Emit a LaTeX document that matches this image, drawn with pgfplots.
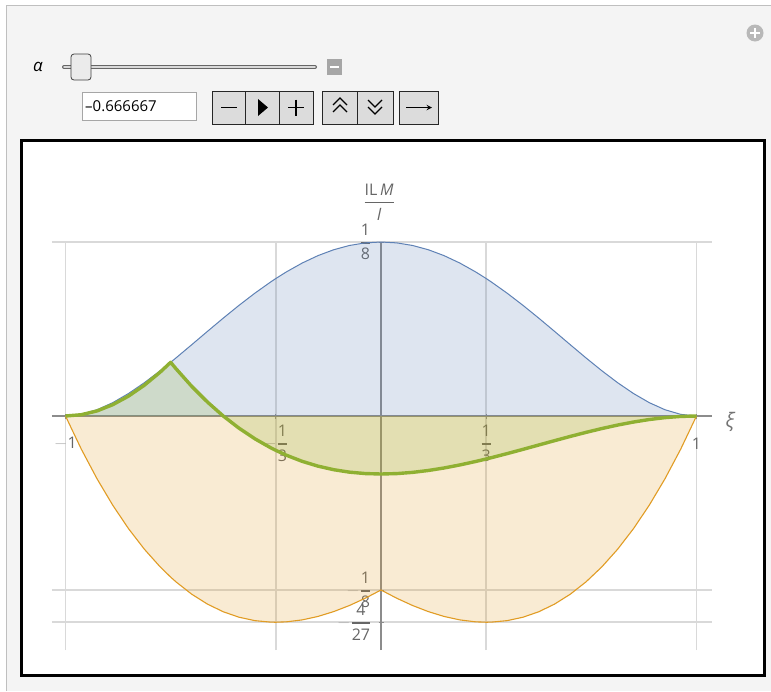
\documentclass[border=0pt]{standalone}
\usepackage{pgfplots}
\pgfplotsset{compat=1.18}
\usepackage{pgfplotstable}
\usepackage{amsmath}
\usepackage{fontspec}
\setmainfont{Open Sans}

\definecolor{mblue}{HTML}{5E81B5}
\definecolor{morange}{HTML}{E19C24}
\definecolor{mgreen}{HTML}{8FB032}
\definecolor{panel}{HTML}{F4F4F4}
\definecolor{ticktext}{HTML}{666666}
\definecolor{btn}{HTML}{DCDCDC}

% xi, max envelope, min envelope, influence line for alpha = -2/3
\pgfplotstableread{
x up low il
-1 0 0 0
-0.95 0.001188 -0.023766 0.000927
-0.9 0.004513 -0.045125 0.003667
-0.85 0.009626 -0.064172 0.008156
-0.8 0.0162 -0.081 0.014333
-0.75 0.023926 -0.095703 0.022135
-0.7 0.032513 -0.108375 0.0315
-0.666667 0.03858 -0.115741 0.03858
-0.65 0.041688 -0.119109 0.034031
-0.6 0.0512 -0.128 0.021333
-0.55 0.060813 -0.135141 0.01001
-0.5 0.070313 -0.140625 0
-0.45 0.079501 -0.144547 -0.00876
-0.4 0.0882 -0.147 -0.016333
-0.35 0.096251 -0.148078 -0.022781
-0.333333 0.098765 -0.148148 -0.024691
-0.3 0.103513 -0.147875 -0.028167
-0.25 0.109863 -0.146484 -0.032552
-0.2 0.1152 -0.144 -0.036
-0.15 0.119438 -0.140516 -0.038573
-0.1 0.122513 -0.136125 -0.040333
-0.05 0.124375 -0.130922 -0.041344
0 0.125 -0.125 -0.041667
0.05 0.124375 -0.130922 -0.041365
0.1 0.122513 -0.136125 -0.0405
0.15 0.119438 -0.140516 -0.039135
0.2 0.1152 -0.144 -0.037333
0.25 0.109863 -0.146484 -0.035156
0.3 0.103513 -0.147875 -0.032667
0.333333 0.098765 -0.148148 -0.030864
0.35 0.096251 -0.148078 -0.029927
0.4 0.0882 -0.147 -0.027
0.45 0.079501 -0.144547 -0.023948
0.5 0.070313 -0.140625 -0.020833
0.55 0.060813 -0.135141 -0.017719
0.6 0.0512 -0.128 -0.014667
0.65 0.041688 -0.119109 -0.01174
0.7 0.032513 -0.108375 -0.009
0.75 0.023926 -0.095703 -0.00651
0.8 0.0162 -0.081 -0.004333
0.85 0.009626 -0.064172 -0.002531
0.9 0.004513 -0.045125 -0.001167
0.95 0.001188 -0.023766 -0.000302
1 0 0 0
}\envelopes

\newcommand{\fr}[2]{\genfrac{}{}{1.6pt}{0}{\text{#1}}{\text{#2}}}
\newcommand{\mn}{\textcolor{black!30}{-}}

\begin{document}
\begin{tikzpicture}[x=1pt,y=-1pt]
\useasboundingbox (0,0) rectangle (771,691);
\fill[white] (0,0) rectangle (771,691);
\fill[panel] (6,5) rectangle (771,691);
\draw[black!25, line width=1pt] (6,691) -- (6,5) -- (771,5);
% plus icon
\fill[black!28] (755,33) circle (8.5);
\draw[white, line width=2.2pt] (750,33) -- (760,33) (755,28) -- (755,38);
% slider
\node[font=\itshape\fontsize{17}{20}\selectfont] at (38,67) {α};
\draw[black!60, line width=4pt, line cap=round] (64,67) -- (315,67);
\draw[black!15, line width=1.6pt, line cap=round] (64,67) -- (315,67);
\draw[black!75, fill=black!8, rounded corners=3pt, line width=0.8pt] (71,54) rectangle (91,80);
\fill[black!35] (327,59) rectangle (342,75);
\draw[white, line width=1.5pt] (330,67) -- (339,67);
% value field
\draw[black!35, fill=white] (82,92) rectangle (196,120);
\node[anchor=west, font=\fontsize{15}{18}\selectfont, inner sep=0pt] at (85,106) {\textendash0.666667};
% buttons
\draw[black!85, fill=btn, line width=0.8pt] (212,91) rectangle (313,124);
\draw[black!85, line width=0.8pt] (245.7,91) -- (245.7,124) (279.3,91) -- (279.3,124);
\draw[line width=1.4pt] (221,107.5) -- (237,107.5);
\fill (258,99) -- (268,107.5) -- (258,116) -- cycle;
\draw[line width=1.4pt] (288,107.5) -- (304,107.5) (296,99.5) -- (296,115.5);
\draw[black!85, fill=btn, line width=0.8pt] (322,91) rectangle (393,124);
\draw[black!85, line width=0.8pt] (357.5,91) -- (357.5,124);
\draw[line width=1.1pt] (333,105) -- (340,98) -- (347,105) (333,112) -- (340,105) -- (347,112);
\draw[line width=1.1pt] (368,100) -- (375,107) -- (382,100) (368,107) -- (375,114) -- (382,107);
\draw[black!85, fill=btn, line width=0.8pt] (399,91) rectangle (438,124);
\draw[line width=1.4pt, -stealth] (406,107.5) -- (432,107.5);
% plot frame
\draw[black, line width=3pt, fill=white] (21.5,140.5) rectangle (764.5,675.5);

\begin{axis}[
  at={(381pt,-416pt)}, anchor=origin,
  x=315.5pt, y=1392pt,
  xmin=-1.0428, xmax=1.0491, ymin=-0.1681, ymax=0.125,
  axis lines=middle,
  axis line style={-, black!45, line width=1.3pt},
  every inner x axis line/.append style={-},
  every inner y axis line/.append style={-},
  clip=false,
  grid=major,
  grid style={black!15, line width=1.6pt},
  major tick length=5pt,
  tick style={black!45, line width=1pt},
  xtick={-1,-0.333333,0.333333,1},
  xticklabels={$\mn\text{1}$, $\mn\fr{1}{3}$, $\fr{1}{3}$, $\text{1}$},
  ytick={-0.148148,-0.125,0.125},
  yticklabels={$\mn\fr{4}{27}$, $\mn\fr{1}{8}$, $\fr{1}{8}$},
  xticklabel style={anchor=center, yshift=-25pt, text=ticktext, font=\fontsize{16}{19}\selectfont},
  yticklabel style={anchor=east, inner sep=0pt, xshift=-7pt, text=ticktext, font=\fontsize{16}{19}\selectfont},
]
\addplot[draw=none, fill=mblue, fill opacity=0.2] table[x=x,y=up]{\envelopes} \closedcycle;
\addplot[draw=none, fill=morange, fill opacity=0.2] table[x=x,y=low]{\envelopes} \closedcycle;
\addplot[draw=none, fill=mgreen, fill opacity=0.2] table[x=x,y=il]{\envelopes} \closedcycle;
\addplot[mblue, line width=1pt] table[x=x,y=up]{\envelopes};
\addplot[morange, line width=1.1pt] table[x=x,y=low]{\envelopes};
\addplot[mgreen, line width=3.4pt, line join=round] table[x=x,y=il]{\envelopes};
\node[text=ticktext, font=\fontsize{16}{19}\selectfont] at (axis cs:-0.006,0.1537) {$\genfrac{}{}{1.6pt}{0}{\text{IL}\,\textit{M}}{\textit{l}}$};
\node[text=black!55, font=\itshape\fontsize{20}{24}\selectfont] at (axis cs:1.106,-0.004) {ξ};
\end{axis}
\end{tikzpicture}
\end{document}
